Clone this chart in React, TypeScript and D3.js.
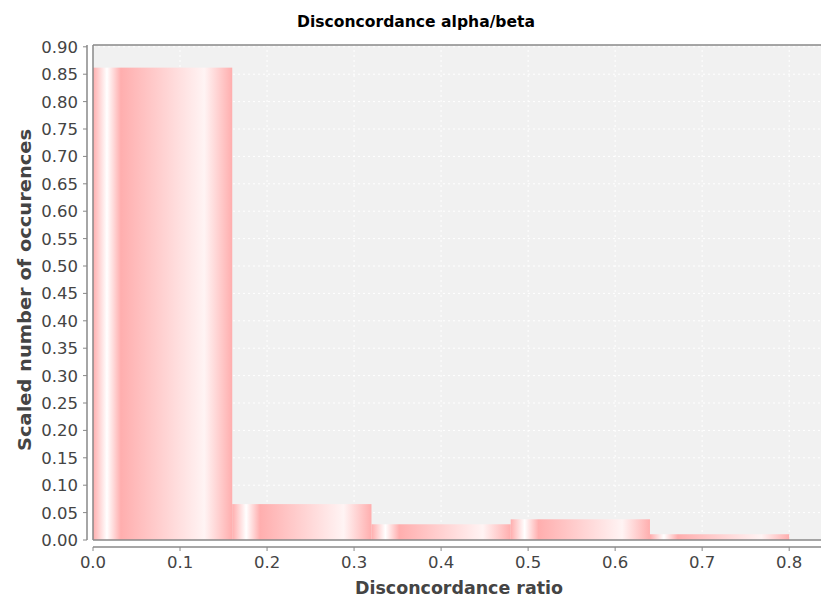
import React from 'react';
import * as d3 from 'd3';

const binEdges = [0, 0.16, 0.32, 0.48, 0.64, 0.8];
const scaledCounts = [0.862, 0.0655, 0.0287, 0.0378, 0.0105];
const xTicks = [0, 0.1, 0.2, 0.3, 0.4, 0.5, 0.6, 0.7, 0.8];
const yTicks = d3.range(0, 0.901, 0.05);

const title = 'Disconcordance alpha/beta';
const xLabel = 'Disconcordance ratio';
const yLabel = 'Scaled number of occurences';

const W = 821;
const H = 598;
const plot = { left: 93, right: 824, top: 45, bottom: 540 };

const App = () => {
  const x = d3.scaleLinear().domain([0, 0.84]).range([plot.left, plot.right]);
  const y = d3.scaleLinear().domain([0, 0.9033]).range([plot.bottom, plot.top]);

  const bins = scaledCounts.map((v, i) => ({ x0: binEdges[i], x1: binEdges[i + 1], v }));
  const font = "'DejaVu Sans', Verdana, sans-serif";
  const axisColor = '#888';
  const tickColor = '#444';

  return (
    <svg width={W} height={H} style={{ position: 'absolute', left: 0, top: 0, background: '#fff' }}>
      <defs>
        <linearGradient id="barGrad" x1="0" x2="1" y1="0" y2="0">
          <stop offset="0" stopColor="#ffaeae" />
          <stop offset="0.1" stopColor="#ffffff" />
          <stop offset="0.2" stopColor="#ffaeae" />
          <stop offset="0.8" stopColor="#fff4f4" />
          <stop offset="1" stopColor="#ffaeae" />
        </linearGradient>
        <clipPath id="plotClip">
          <rect x={plot.left} y={plot.top} width={plot.right - plot.left} height={plot.bottom - plot.top} />
        </clipPath>
      </defs>

      {/* plot background */}
      <rect x={plot.left} y={plot.top} width={plot.right - plot.left} height={plot.bottom - plot.top} fill="#f1f1f1" />

      {/* grid lines */}
      <g stroke="#fff" strokeWidth={1} strokeDasharray="2,3">
        {xTicks.slice(1).map(t => (
          <line key={'gx' + t} x1={x(t)} x2={x(t)} y1={plot.top} y2={plot.bottom} />
        ))}
        {yTicks.slice(1).map(t => (
          <line key={'gy' + t} x1={plot.left} x2={plot.right} y1={y(t)} y2={y(t)} />
        ))}
      </g>

      {/* bars */}
      <g clipPath="url(#plotClip)">
        {bins.map((b, i) => (
          <rect
            key={i}
            x={x(b.x0)}
            y={y(b.v)}
            width={x(b.x1) - x(b.x0)}
            height={y(0) - y(b.v)}
            fill="url(#barGrad)"
          />
        ))}
      </g>

      {/* plot border */}
      <g stroke={axisColor} strokeWidth={1.5} fill="none">
        <line x1={plot.left} x2={plot.right} y1={plot.top} y2={plot.top} />
        <line x1={plot.left} x2={plot.right} y1={plot.bottom} y2={plot.bottom} />
        <line x1={plot.left} x2={plot.left} y1={plot.top} y2={plot.bottom} />
      </g>

      {/* y axis */}
      <g>
        <line x1={87} x2={87} y1={plot.top} y2={plot.bottom} stroke={axisColor} strokeWidth={1.5} />
        {yTicks.map(t => (
          <g key={'yt' + t}>
            <line x1={83} x2={87} y1={y(t)} y2={y(t)} stroke={axisColor} strokeWidth={1} />
            <text x={78} y={y(t) + 6} textAnchor="end" fontFamily={font} fontSize={16.5} fill={tickColor}>
              {d3.format('.2f')(t)}
            </text>
          </g>
        ))}
      </g>

      {/* x axis */}
      <g>
        <line x1={plot.left} x2={plot.right} y1={547} y2={547} stroke={axisColor} strokeWidth={1.5} />
        {xTicks.map(t => (
          <g key={'xt' + t}>
            <line x1={x(t)} x2={x(t)} y1={547} y2={551} stroke={axisColor} strokeWidth={1} />
            <text x={x(t)} y={568} textAnchor="middle" fontFamily={font} fontSize={16.5} fill={tickColor}>
              {d3.format('.1f')(t)}
            </text>
          </g>
        ))}
      </g>

      {/* titles */}
      <text x={416} y={27} textAnchor="middle" fontFamily={font} fontWeight="bold" fontSize={15.5}
        textLength={238} lengthAdjust="spacingAndGlyphs" fill="#000">
        {title}
      </text>
      <text x={459} y={594} textAnchor="middle" fontFamily={font} fontWeight="bold" fontSize={17}
        textLength={208} lengthAdjust="spacingAndGlyphs" fill={tickColor}>
        {xLabel}
      </text>
      <text transform="translate(31,290) rotate(-90)" textAnchor="middle" fontFamily={font} fontWeight="bold"
        fontSize={17.5} textLength={322} lengthAdjust="spacingAndGlyphs" fill={tickColor}>
        {yLabel}
      </text>
    </svg>
  );
};

export default App;
